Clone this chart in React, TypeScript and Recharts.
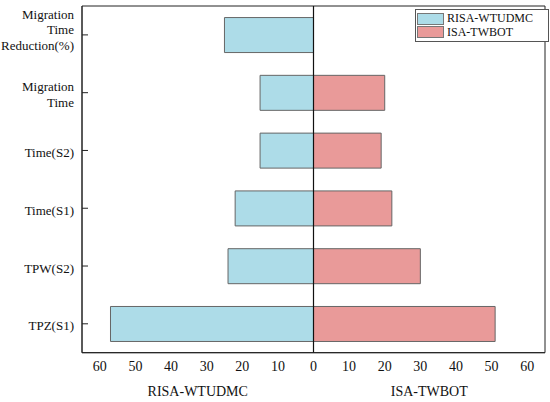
import React from 'react';
import { BarChart, Bar, XAxis, YAxis, ReferenceLine, ReferenceArea, Legend } from 'recharts';

const categories = [
  'Migration Time Reduction(%)',
  'Migration Time',
  'Time(S2)',
  'Time(S1)',
  'TPW(S2)',
  'TPZ(S1)',
];
const risaValues = [25, 15, 15, 22, 24, 57];
const isaValues = [null, 20, 19, 22, 30, 51];
const xTicks = [-60, -50, -40, -30, -20, -10, 0, 10, 20, 30, 40, 50, 60];
const seriesNames = ['RISA-WTUDMC', 'ISA-TWBOT'];

const FONT = '"Liberation Serif"';
const INK = '#111';

const chartData = categories.map((name, i) => ({
  name,
  risa: -risaValues[i],
  isa: isaValues[i],
}));

function CategoryTick(props: any) {
  const { x, y, payload } = props;
  const lines = String(payload.value).split(' ');
  const lineH = 15.5;
  const shift = lines.length > 2 ? -5 : 2;
  const start = y + shift - ((lines.length - 1) * lineH) / 2;
  return (
    <g>
      <line x1={x + 8} x2={x + 14} y1={y} y2={y} stroke="#222" />
      <text x={x} textAnchor="end" fill={INK} fontSize={13}>
        {lines.map((l, i) => (
          <tspan key={i} x={x} y={start + i * lineH} dy="0.35em">
            {l}
          </tspan>
        ))}
      </text>
    </g>
  );
}

function SideLabels(props: any) {
  const vb = props.viewBox || { x: 82, y: 353, width: 463, height: 49 };
  const y = vb.y + 38.5;
  return (
    <g>
      {seriesNames.map((s, i) => (
        <text
          key={s}
          x={vb.x + vb.width * (i === 0 ? 0.25 : 0.75)}
          y={y}
          dy="0.35em"
          textAnchor="middle"
          fill={INK}
          fontSize={14}
        >
          {s}
        </text>
      ))}
    </g>
  );
}

function LegendBox(props: any) {
  const items = [...(props.payload || [])].sort(
    (a: any, b: any) => seriesNames.indexOf(a.value) - seriesNames.indexOf(b.value)
  );
  return (
    <div
      style={{
        border: '1px solid #555',
        background: '#fff',
        width: 134,
        height: 33,
        boxSizing: 'border-box',
        padding: '2px 0 0 1px',
      }}
    >
      {items.map((it: any) => (
        <div key={it.value} style={{ display: 'flex', alignItems: 'center', height: 13.4 }}>
          <span
            style={{
              display: 'inline-block',
              width: 27,
              height: 12,
              boxSizing: 'border-box',
              border: '1px solid #777',
              background: it.color,
              marginRight: 3,
              flex: 'none',
            }}
          />
          <span style={{ fontSize: 12, lineHeight: '13px', color: INK, whiteSpace: 'nowrap' }}>{it.value}</span>
        </div>
      ))}
    </div>
  );
}

export default function App() {
  return (
    <div
      className="butterfly"
      style={{ position: 'absolute', left: 0, top: 0, width: 550, height: 402, background: '#fff', fontFamily: FONT }}
    >
      <style>{`.butterfly svg text { font-family: "Liberation Serif", "Times New Roman" !important; }`}</style>
      <BarChart
        width={550}
        height={402}
        data={chartData}
        layout="vertical"
        stackOffset="sign"
        barCategoryGap="20%"
        margin={{ top: 6, right: 5, bottom: 0, left: 0 }}
      >
        <XAxis
          type="number"
          domain={[-65, 65]}
          ticks={xTicks}
          allowDataOverflow
          tickFormatter={(v: number) => String(Math.abs(v))}
          tick={{ fontSize: 14, fill: INK }}
          tickLine={false}
          axisLine={{ stroke: '#222' }}
          height={49.3}
          label={(p: any) => <SideLabels {...p} />}
        />
        <YAxis
          type="category"
          dataKey="name"
          width={82}
          tick={<CategoryTick />}
          tickLine={false}
          axisLine={{ stroke: '#222' }}
          interval={0}
        />
        <Legend
          layout="vertical"
          verticalAlign="middle"
          align="center"
          width={134}
          wrapperStyle={{ left: 415, top: 9, width: 134 }}
          content={(p: any) => <LegendBox {...p} />}
        />
        <Bar
          dataKey="risa"
          name="RISA-WTUDMC"
          stackId="s"
          fill="#ADDCE8"
          stroke="#666"
          strokeWidth={1}
          isAnimationActive={false}
        />
        <Bar
          dataKey="isa"
          name="ISA-TWBOT"
          stackId="s"
          fill="#E99A99"
          stroke="#666"
          strokeWidth={1}
          isAnimationActive={false}
        />
        <ReferenceLine x={0} stroke="#111" strokeWidth={1.2} />
        <ReferenceArea x1={-65} x2={65} fill="none" stroke="#222" strokeWidth={1} />
      </BarChart>
    </div>
  );
}
